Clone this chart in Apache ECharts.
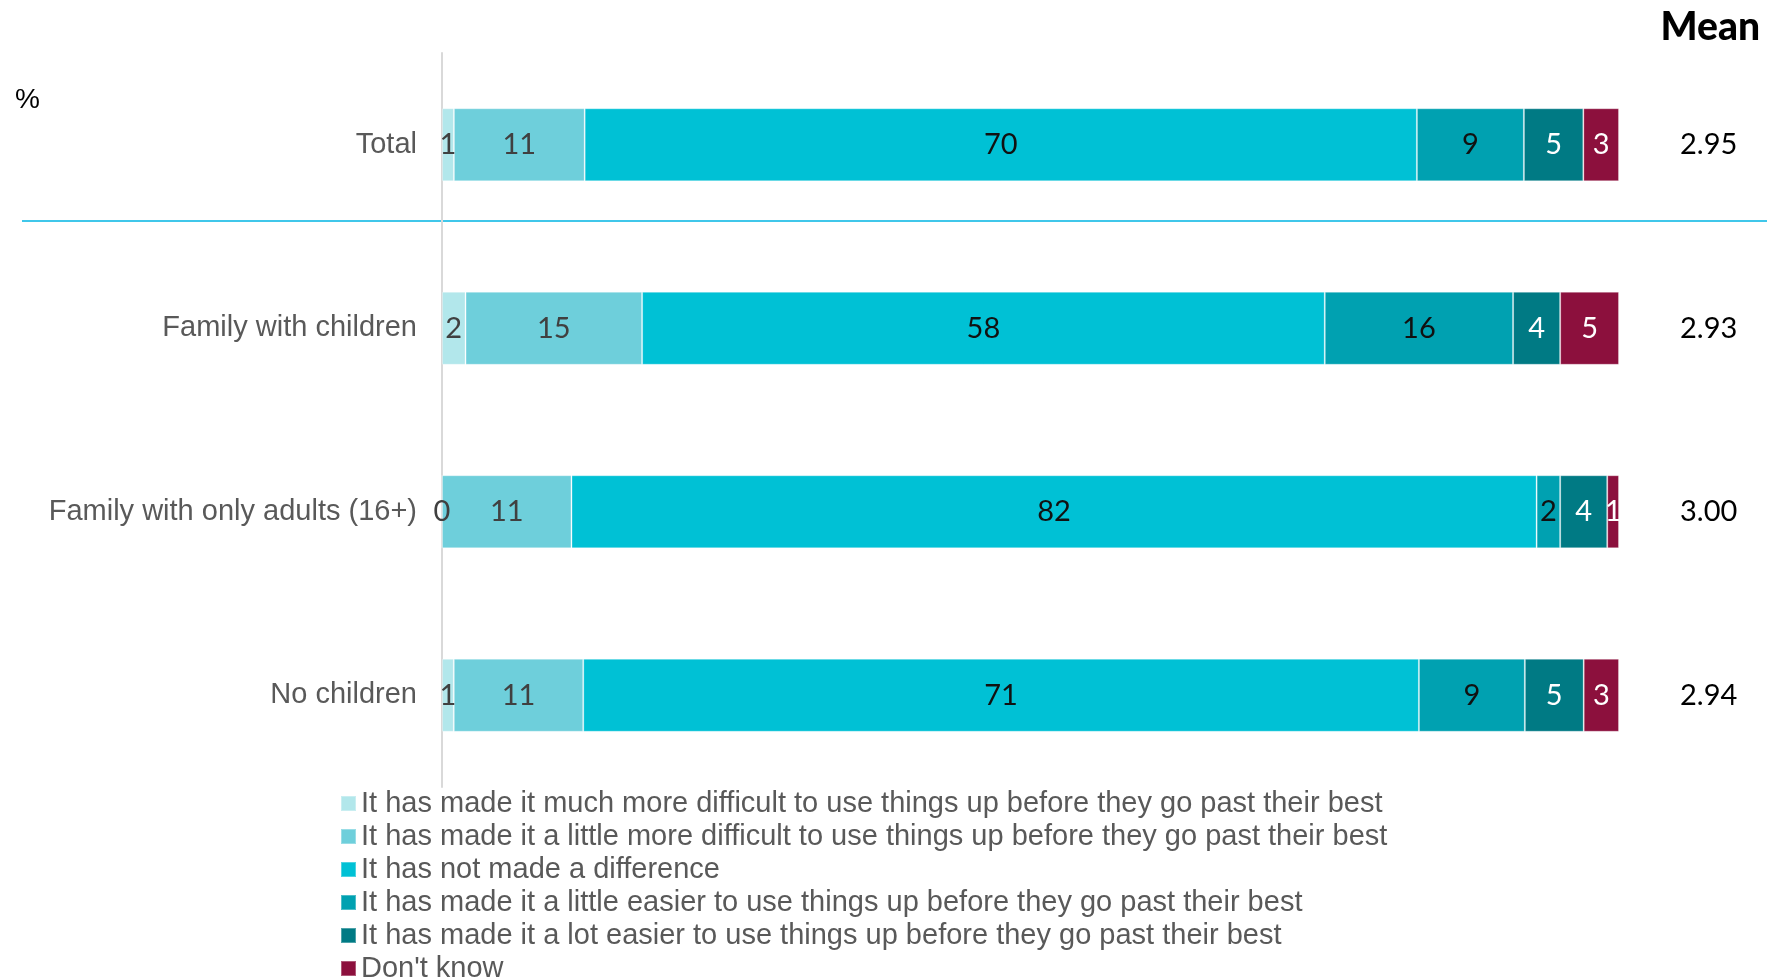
<!DOCTYPE html>
<html>
<head>
<meta charset="utf-8">
<title>Impact on using things up before they go past their best</title>
<script src="https://cdn.jsdelivr.net/npm/echarts@6/dist/echarts.min.js"></script>
<style>
  html, body { margin: 0; padding: 0; background: #ffffff; }
  #chart { width: 1767px; height: 980px; }
</style>
</head>
<body>
<div id="chart"></div>
<script>
// Household groups, top to bottom
const categories = ['Total', 'Family with children', 'Family with only adults (16+)', 'No children'];

// Response shares (%) for each group
const muchMoreDifficult   = [1, 2, 0, 1];
const littleMoreDifficult = [11, 15, 11, 11];
const noDifference        = [70, 58, 82, 71];
const littleEasier        = [9, 16, 2, 9];
const lotEasier           = [5, 4, 4, 5];
const dontKnow            = [3, 5, 1, 3];

// Mean score per group
const means = ['2.95', '2.93', '3.00', '2.94'];

const seriesDefs = [
  { name: 'It has made it much more difficult to use things up before they go past their best', data: muchMoreDifficult, color: '#b2e7eb', label: '#404040' },
  { name: 'It has made it a little more difficult to use things up before they go past their best', data: littleMoreDifficult, color: '#6ecfdb', label: '#404040' },
  { name: 'It has not made a difference', data: noDifference, color: '#00c1d5', label: '#111111' },
  { name: 'It has made it a little easier to use things up before they go past their best', data: littleEasier, color: '#00a1b1', label: '#111111' },
  { name: 'It has made it a lot easier to use things up before they go past their best', data: lotEasier, color: '#007a84', label: '#ffffff' },
  { name: "Don't know", data: dontKnow, color: '#8c103d', label: '#ffffff' }
];

// 100% stacked: each row is scaled to its own total so every bar fills the axis
const rowTotals = categories.map((_, i) => seriesDefs.reduce((sum, s) => sum + s.data[i], 0));

const chart = echarts.init(document.getElementById('chart'), null, { renderer: 'canvas' });

const option = {
  backgroundColor: '#ffffff',
  animation: false,
  title: [
    {
      text: 'Mean',
      right: 2,
      top: 3,
      textStyle: { fontFamily: 'Lato', fontWeight: 900, fontSize: 39, color: '#000000' }
    },
    {
      text: '%',
      left: 10,
      top: 81,
      textStyle: { fontFamily: 'Liberation Sans', fontWeight: 'normal', fontSize: 28, color: '#000000' }
    }
  ],
  legend: {
    orient: 'vertical',
    left: 340,
    top: 789,
    height: 260,
    padding: 0,
    itemWidth: 15,
    itemHeight: 15,
    itemGap: 4,
    icon: 'rect',
    selectedMode: false,
    textStyle: { fontFamily: 'Liberation Sans', fontSize: 29, lineHeight: 27, color: '#595959' },
    data: seriesDefs.map(s => s.name)
  },
  grid: { left: 442, right: 148, top: 53, bottom: 193, containLabel: false },
  xAxis: { type: 'value', min: 0, max: 100, show: false },
  yAxis: [
    {
      type: 'category',
      inverse: true,
      data: categories,
      axisLine: { show: true, lineStyle: { color: '#d9d9d9', width: 2 } },
      axisTick: { show: false },
      axisLabel: { fontFamily: 'Liberation Sans', fontSize: 29, color: '#595959', margin: 25 }
    },
    {
      type: 'category',
      inverse: true,
      position: 'right',
      data: means,
      axisLine: { show: false },
      axisTick: { show: false },
      axisLabel: { fontFamily: 'Lato', fontSize: 29, color: '#000000', margin: 61 }
    }
  ],
  graphic: [
    {
      type: 'line',
      shape: { x1: 22, y1: 221, x2: 1767, y2: 221 },
      style: { stroke: '#00b4e3', lineWidth: 1.5 },
      silent: true
    }
  ],
  series: seriesDefs.map(s => ({
    name: s.name,
    type: 'bar',
    stack: 'share',
    yAxisIndex: 0,
    barWidth: 73,
    data: s.data.map((v, i) => ({ value: v * 100 / rowTotals[i], raw: v })),
    itemStyle: { color: s.color, borderColor: 'rgba(255,255,255,0.3)', borderWidth: 1 },
    label: {
      show: true,
      position: 'inside',
      fontFamily: 'Lato',
      fontSize: 29,
      color: s.label,
      formatter: p => String(p.data.raw)
    }
  }))
};

chart.setOption(option);
</script>
</body>
</html>
